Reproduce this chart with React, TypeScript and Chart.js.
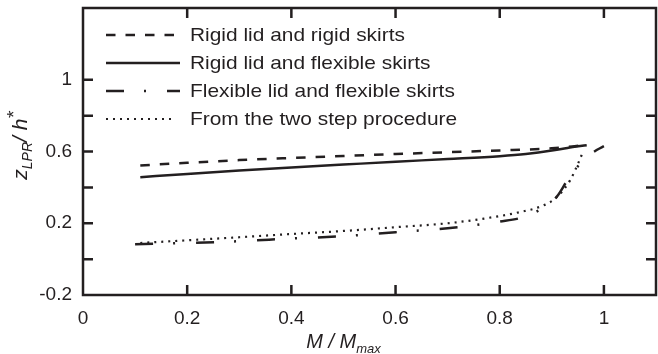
import { useEffect, useRef } from 'react';
import { Chart, registerables } from 'chart.js';

Chart.register(...registerables);

const INK = '#231f20';
const FONT = "'Liberation Sans', Arial, Helvetica, sans-serif";

// Series names (legend order)
const seriesLabels = [
  'Rigid lid and rigid skirts',
  'Rigid lid and flexible skirts',
  'Flexible lid and flexible skirts',
  'From the two step procedure',
];

// Rigid lid and rigid skirts
const rigidRigidM = [0.11, 0.2, 0.3, 0.4, 0.5, 0.6, 0.7, 0.8, 0.9, 0.96];
const rigidRigidZ = [0.522, 0.537, 0.552, 0.564, 0.575, 0.586, 0.596, 0.606, 0.618, 0.634];

// Rigid lid and flexible skirts
const rigidFlexM = [0.11, 0.2, 0.3, 0.4, 0.5, 0.6, 0.7, 0.8, 0.85, 0.9, 0.93, 0.967];
const rigidFlexZ = [0.457, 0.475, 0.494, 0.511, 0.527, 0.543, 0.558, 0.574, 0.586, 0.605, 0.62, 0.635];

// Flexible lid and flexible skirts
const flexFlexM = [0.1, 0.2, 0.3, 0.4, 0.5, 0.6, 0.7, 0.8, 0.84, 0.88, 0.91, 0.93, 0.96, 0.987, 1.0];
const flexFlexZ = [0.083, 0.09, 0.1, 0.115, 0.128, 0.15, 0.172, 0.21, 0.23, 0.28, 0.35, 0.44, 0.55, 0.61, 0.63];

// From the two step procedure
const twoStepM = [0.11, 0.2, 0.3, 0.4, 0.5, 0.6, 0.7, 0.77, 0.84, 0.88, 0.91, 0.935, 0.95, 0.96];
const twoStepZ = [0.09, 0.105, 0.122, 0.14, 0.157, 0.178, 0.2, 0.226, 0.263, 0.295, 0.346, 0.439, 0.53, 0.6];

// Axis ranges and ticks
const xMin = 0;
const xMax = 1.1;
const xStep = 0.2;
const xTickValues = [0.2, 0.4, 0.6, 0.8, 1.0];
const yMin = -0.2;
const yMax = 1.4;
const yStep = 0.2;
const yTickValues = [0, 0.2, 0.4, 0.6, 0.8, 1.0];
const yLabelValues = [-0.2, 0.2, 0.6, 1];

const seriesDash: number[][] = [[9.5, 10], [], [18, 20, 2, 21], [2, 5]];
const seriesWidth = [2.5, 2.5, 2.5, 2.2];

const fmt = (v: number) => String(Math.round(v * 10) / 10);

const toPoints = (xs: number[], ys: number[]) => xs.map((x, i) => ({ x, y: ys[i] }));

const decorPlugin = {
  id: 'decor',
  afterDraw(chart: any) {
    const { ctx, chartArea: a, scales } = chart;
    const xs = scales.x;
    const ys = scales.y;
    ctx.save();

    // frame
    ctx.strokeStyle = INK;
    ctx.lineWidth = 2.5;
    ctx.setLineDash([]);
    ctx.strokeRect(a.left, a.top, a.right - a.left, a.bottom - a.top);

    // inward tick marks on all four sides
    const tl = 10;
    ctx.beginPath();
    xTickValues.forEach((v) => {
      const px = xs.getPixelForValue(v);
      ctx.moveTo(px, a.bottom);
      ctx.lineTo(px, a.bottom - tl);
      ctx.moveTo(px, a.top);
      ctx.lineTo(px, a.top + tl);
    });
    yTickValues.forEach((v) => {
      const py = ys.getPixelForValue(v);
      ctx.moveTo(a.left, py);
      ctx.lineTo(a.left + tl, py);
      ctx.moveTo(a.right, py);
      ctx.lineTo(a.right - tl, py);
    });
    ctx.stroke();

    // legend
    const lx0 = 106;
    const lx1 = 180;
    const tx = 190;
    seriesLabels.forEach((label, i) => {
      const y = 35 + i * 28;
      ctx.beginPath();
      ctx.setLineDash(seriesDash[i]);
      ctx.lineWidth = i === 3 ? 1.8 : seriesWidth[i];
      ctx.moveTo(lx0, y);
      ctx.lineTo(i === 3 ? 176 : lx1, y);
      ctx.stroke();
      ctx.setLineDash([]);
      ctx.save();
      ctx.translate(tx, y);
      ctx.scale(1.1, 1);
      ctx.fillStyle = INK;
      ctx.font = `19px ${FONT}`;
      ctx.textBaseline = 'middle';
      ctx.textAlign = 'left';
      ctx.fillText(label, 0, 1);
      ctx.restore();
    });

    // x axis title: M / M_max
    ctx.fillStyle = INK;
    ctx.textBaseline = 'alphabetic';
    ctx.textAlign = 'left';
    const main = `italic 20px ${FONT}`;
    const sub = `italic 13px ${FONT}`;
    ctx.font = main;
    const t1 = 'M / M';
    const w1 = ctx.measureText(t1).width;
    ctx.font = sub;
    const t2 = 'max';
    const w2 = ctx.measureText(t2).width;
    const cx = xs.getPixelForValue(0.5);
    const bx = cx - (w1 + w2) / 2;
    ctx.font = main;
    ctx.fillText(t1, bx, 348);
    ctx.font = sub;
    ctx.fillText(t2, bx + w1, 353);

    // y axis title: z_LPR / h*
    ctx.save();
    ctx.translate(27, (a.top + a.bottom) / 2 - 6);
    ctx.rotate(-Math.PI / 2);
    const parts = [
      { t: 'z', f: `italic 21px ${FONT}`, dy: 0 },
      { t: 'LPR', f: `italic 14px ${FONT}`, dy: 5 },
      { t: '/ h', f: `italic 21px ${FONT}`, dy: 0 },
      { t: '*', f: `italic 19px ${FONT}`, dy: -7 },
    ];
    let total = 0;
    parts.forEach((p) => {
      ctx.font = p.f;
      total += ctx.measureText(p.t).width;
    });
    let px = -total / 2;
    parts.forEach((p) => {
      ctx.font = p.f;
      ctx.fillText(p.t, px, p.dy);
      px += ctx.measureText(p.t).width;
    });
    ctx.restore();

    ctx.restore();
  },
};

export default function App() {
  const ref = useRef<HTMLCanvasElement | null>(null);

  useEffect(() => {
    document.body.style.margin = '0';
    const canvas = ref.current;
    if (!canvas) return;

    const series = [
      toPoints(rigidRigidM, rigidRigidZ),
      toPoints(rigidFlexM, rigidFlexZ),
      toPoints(flexFlexM, flexFlexZ),
      toPoints(twoStepM, twoStepZ),
    ];

    const chart = new Chart(canvas, {
      type: 'line',
      data: {
        datasets: series.map((data, i) => ({
          label: seriesLabels[i],
          data,
          borderColor: INK,
          backgroundColor: INK,
          borderWidth: seriesWidth[i],
          borderDash: seriesDash[i],
          pointRadius: 0,
          fill: false,
          cubicInterpolationMode: 'monotone' as const,
        })),
      },
      options: {
        responsive: false,
        animation: false,
        devicePixelRatio: 1,
        layout: { padding: { left: 0, top: 8, right: 2, bottom: 0 } },
        plugins: {
          legend: { display: false },
          tooltip: { enabled: false },
        },
        scales: {
          x: {
            type: 'linear',
            min: xMin,
            max: xMax,
            afterFit: (s: any) => {
              s.height = 59;
              s.paddingLeft = 0;
              s.paddingRight = 0;
            },
            grid: { display: false, drawTicks: false },
            border: { display: false },
            ticks: {
              stepSize: xStep,
              autoSkip: false,
              maxRotation: 0,
              padding: 12,
              color: INK,
              font: { family: FONT, size: 19 },
              callback: (v: any) => (Number(v) > 1.05 ? '' : fmt(Number(v))),
            },
          },
          y: {
            type: 'linear',
            min: yMin,
            max: yMax,
            afterFit: (s: any) => {
              s.width = 83;
              s.paddingTop = 0;
              s.paddingBottom = 0;
            },
            grid: { display: false, drawTicks: false },
            border: { display: false },
            ticks: {
              stepSize: yStep,
              autoSkip: false,
              padding: 11,
              color: INK,
              font: { family: FONT, size: 19 },
              callback: (v: any) => {
                const n = Math.round(Number(v) * 10) / 10;
                return yLabelValues.some((l) => Math.abs(l - n) < 1e-6) ? fmt(n) : '';
              },
            },
          },
        },
      },
      plugins: [decorPlugin],
    });

    return () => chart.destroy();
  }, []);

  return <canvas ref={ref} width={658} height={354} style={{ display: 'block' }} />;
}
